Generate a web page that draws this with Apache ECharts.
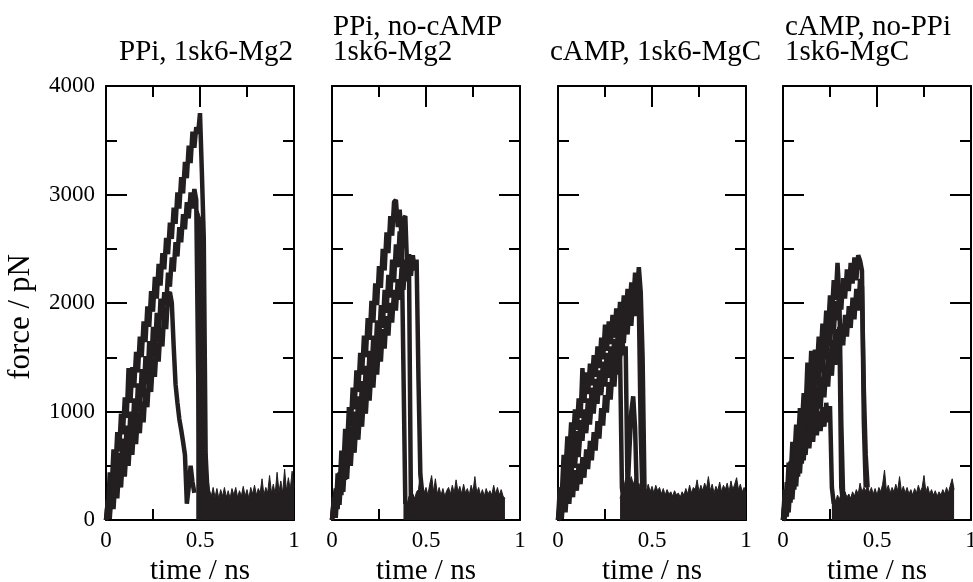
<!DOCTYPE html>
<html>
<head>
<meta charset="utf-8">
<script src="https://cdn.jsdelivr.net/npm/echarts@6/dist/echarts.min.js"></script>
<style>
html,body{margin:0;padding:0;background:#fff;}
#chart{width:973px;height:582px;}
</style>
</head>
<body>
<div id="chart"></div>
<script>
// ---------- data (force in pN, sampled every 0.01 ns) ----------
const SAMPLE_STEP = 0.01;
const TITLES = ["PPi, 1sk6-Mg2", "PPi, no-cAMP\n1sk6-Mg2", "cAMP, 1sk6-MgC", "cAMP, no-PPi\n1sk6-MgC"];
const X_NAME = "time / ns";
const Y_NAME = "force / pN";
const X_TICKS = [0, 0.5, 1];
const Y_TICKS = [0, 1000, 2000, 3000, 4000];

// panel 1 : PPi, 1sk6-Mg2  (traces start at t = 0)
const p1A = [0,60,440,290,650,470,810,630,980,790, 1130,940,1400,1080,1410,1220,1550,1360,1690,1500, 1830,1640,1970,1780,2110,1920,2240,2040,2360,2160, 2460,2310,2600,2450,2740,2590,2880,2730,3020,2870, 3160,3010,3300,3150,3450,3290,3580,3430,3620,3560, 3750,3200,2600,600,250];
const p1B = [0,180,60,360,170,500,280,620,400,750, 510,870,640,1000,760,1120,880,1260,1000,1390, 1130,1510,1250,1650,1380,1780,1510,1910,1640,2040, 1850,2100,1980,2280,2150,2420,2290,2560,2430,2700, 2560,2820,2680,2930,2780,3020,2870,3050,2950,1400, 200];
const p1C = [0,180,10,290,100,390,200,490,300,590, 400,690,500,790,600,890,700,990,800,1090, 900,1210,1040,1350,1180,1490,1320,1630,1460,1770, 1600,1920,1760,2080,2100,2000,1600,1250,1080,930, 830,720,600,150,300,500,350,250];
const p1TailStart = 0.48;
const p1Tail = [2750,2850,2800,2750,2600,800,420,280,220,300, 210,290,200,280,220,300,210,270,200,290, 230,300,210,270,220,310,220,280,200,300, 240,320,230,290,250,380,230,300,250,410, 250,330,240,440,260,360,250,470,270,390, 280,450,300];

// panel 2 : PPi, no-cAMP 1sk6-Mg2
const p2A = [0,210,80,430,270,640,460,840,660,1040, 860,1220,1020,1380,1180,1540,1340,1700,1500,1860, 1660,2020,1820,2180,1980,2340,2140,2500,2300,2650, 2460,2800,2620,2930,2950,2700,2860,2600,1400,150];
const p2B = [0,10,290,100,440,230,580,370,720,510, 860,650,1000,790,1140,930,1280,1070,1420,1210, 1560,1350,1700,1490,1840,1630,1980,1770,2120,1910, 2260,2050,2400,2190,2540,2330,2660,2450,2780,2800, 2300,2250,100];
const p2C = [0,190,20,320,140,440,260,560,380,680, 500,800,620,920,740,1040,860,1160,980,1280, 1100,1400,1220,1520,1340,1640,1460,1760,1580,1880, 1700,2000,1820,2120,1930,2220,2030,2320,2120,2400, 2200,2450,2250,2440,2300,2400,1300,420,250];
const p2TailStart = 0.38;
const p2Tail = [150,200,150,220,180,240,200,260,280,430, 300,250,300,230,330,410,260,380,240,300, 230,290,220,270,300,240,320,250,370,260, 310,240,330,250,290,230,320,260,400,250, 300,230,280,220,290,240,270,230,320,240, 300,230,280,220,200];

// panel 3 : cAMP, 1sk6-MgC
const p3A = [0,300,230,600,460,770,600,900,720,1020, 830,1120,940,1400,1080,1360,1160,1440,1240,1520, 1320,1600,1400,1680,1480,1800,1560,1830,1620,1890, 1680,1950,1740,2010,1800,2070,1860,2130,1920,2190, 1990,2280,2080,2330,2100,1500,300];
const p3B = [0,10,260,90,400,230,540,360,660,480, 770,580,870,760,970,800,1070,880,1170,980, 1270,1070,1350,1150,1430,1230,1510,1310,1590,1390, 1670,1470,1750,1550,1830,1630,1910,1710,1990,1790, 2070,1880,2170,2000,800,200];
const p3C = [0,160,10,250,70,330,150,400,210,460, 270,520,330,580,390,650,470,730,550,810, 640,910,750,1030,870,1150,990,1270,1110,1390, 1230,1510,1340,1540,300,150];
const p3D = [0,20,300,140,460,290,600,420,720,530, 820,630,920,730,1020,830,1120,930,1220,1020, 1300,1100,1380,1180,1460,1260,1540,1330,1600,1390, 1660,1450,1720,1500,1700,1520,1600,250,650,1000, 1140,850,200];
const p3TailStart = 0.33;
const p3Tail = [200,260,300,380,420,350,400,330,380,300, 340,280,320,400,270,330,260,310,250,320, 270,300,240,290,230,280,240,260,220,270, 230,250,210,260,230,290,240,320,250,300, 280,370,260,320,270,340,290,400,270,330, 250,310,270,350,260,320,280,340,260,360, 280,330,390,280,330,260,300,240];

// panel 4 : cAMP, no-PPi 1sk6-MgC
const p4A = [0,280,170,530,380,720,550,880,710,1030, 850,1170,990,1450,1130,1560,1260,1570,1380,1690, 1500,1810,1620,1930,1750,2070,1890,2210,2030,2370, 2050,900,200];
const p4B = [0,180,30,330,160,460,280,580,400,700, 520,820,640,940,750,1040,850,1140,950,1230, 1030,1320,1130,1420,1230,1520,1330,1620,1430,1720, 1530,1810,1610,1890,1690,1970,1770,2050,1850,2130, 1930,2220,2150,1200,600,300];
const p4C = [0,10,230,70,350,190,470,310,590,430, 710,550,830,670,950,790,1070,910,1190,1030, 1310,1150,1430,1270,1550,1390,1660,1490,1760,1590, 1780,300,150];
const p4D = [0,200,90,370,240,500,360,610,460,700, 540,770,600,830,660,890,720,950,780,1000, 820,1040,860,1080,900,1050,300,150];
const p4E = [0,20,350,210,540,380,690,520,820,640, 940,760,1060,880,1180,1000,1300,1120,1420,1240, 1540,1360,1660,1480,1780,1600,1900,1720,2020,1840, 2130,1940,2230,2040,2310,2110,2370,2180,2420,2210, 2440,2390,2300,900,300];
const p4TailStart = 0.26;
const p4Tail = [180,220,170,230,190,250,200,260,210,240, 200,260,220,280,240,340,260,300,270,320, 250,300,240,290,230,300,260,330,460,270, 320,250,300,260,330,270,400,260,310,250, 300,240,280,230,290,250,320,260,300,410, 260,310,240,280,230,270,220,260,230,280, 240,300,250,320,380,280];

// ---------- assembly ----------
const panels = [
  {traces: [p1A, p1B, p1C], tail: p1Tail, tailStart: p1TailStart},
  {traces: [p2A, p2B, p2C], tail: p2Tail, tailStart: p2TailStart},
  {traces: [p3A, p3B, p3C, p3D], tail: p3Tail, tailStart: p3TailStart},
  {traces: [p4A, p4B, p4C, p4D, p4E], tail: p4Tail, tailStart: p4TailStart}
];

function toPairs(vals, start) {
  return vals.map((v, i) => [Math.round((start + i * SAMPLE_STEP) * 1000) / 1000, v]);
}

const FONT = '"Liberation Serif", "Times New Roman", serif';
const INK = '#231f20';
const GRID_LEFT = [106, 332, 558, 783];
const TITLE_LEFT = [119, 333, 550, 785];
const GRID_TOP = 86, GRID_W = 188, GRID_H = 434;

const grid = [], xAxis = [], yAxis = [], series = [], title = [];

function tickCfg() {
  return {
    axisLine: {show: true, onZero: false, lineStyle: {color: '#000', width: 2}},
    axisTick: {show: true, inside: true, length: 21, lineStyle: {color: '#000', width: 2}},
    minorTick: {show: true, splitNumber: 2, length: 11, lineStyle: {color: '#000', width: 2}},
    splitLine: {show: false},
    minorSplitLine: {show: false}
  };
}
const plain = v => String(v);

panels.forEach((p, i) => {
  grid.push({left: GRID_LEFT[i], top: GRID_TOP, width: GRID_W, height: GRID_H,
             containLabel: false, outerBoundsMode: 'none'});
  const twoLine = TITLES[i].indexOf('\n') >= 0;
  title.push({
    text: TITLES[i], left: TITLE_LEFT[i], top: twoLine ? 15 : 40, padding: 0,
    textStyle: {fontFamily: FONT, fontSize: 29, fontWeight: 'normal', color: '#000', lineHeight: 25}
  });
  xAxis.push(Object.assign({
    type: 'value', gridIndex: i, min: X_TICKS[0], max: X_TICKS[X_TICKS.length - 1], interval: X_TICKS[1] - X_TICKS[0],
    position: 'bottom',
    axisLabel: {show: true, margin: 9, color: '#000', fontFamily: FONT, fontSize: 23, formatter: plain},
    name: X_NAME, nameLocation: 'middle', nameGap: 35,
    nameTextStyle: {fontFamily: FONT, fontSize: 29, color: '#000', lineHeight: 29}
  }, tickCfg()));
  xAxis.push(Object.assign({
    type: 'value', gridIndex: i, min: X_TICKS[0], max: X_TICKS[X_TICKS.length - 1], interval: X_TICKS[1] - X_TICKS[0],
    position: 'top', axisLabel: {show: false}
  }, tickCfg()));
  yAxis.push(Object.assign({
    type: 'value', gridIndex: i, min: Y_TICKS[0], max: Y_TICKS[Y_TICKS.length - 1], interval: Y_TICKS[1] - Y_TICKS[0],
    position: 'left',
    axisLabel: {show: i === 0, margin: 11, color: '#000', fontFamily: FONT, fontSize: 23, formatter: plain}
  }, tickCfg()));
  yAxis.push(Object.assign({
    type: 'value', gridIndex: i, min: Y_TICKS[0], max: Y_TICKS[Y_TICKS.length - 1], interval: Y_TICKS[1] - Y_TICKS[0],
    position: 'right', axisLabel: {show: false}
  }, tickCfg()));

  series.push({
    type: 'line', xAxisIndex: 2 * i, yAxisIndex: 2 * i,
    data: toPairs(p.tail, p.tailStart), symbol: 'none', silent: true,
    lineStyle: {color: INK, width: 1}, areaStyle: {color: INK, opacity: 1}, z: 2
  });
  p.traces.forEach(tr => {
    series.push({
      type: 'line', xAxisIndex: 2 * i, yAxisIndex: 2 * i,
      data: toPairs(tr, 0), symbol: 'none', silent: true,
      lineStyle: {color: INK, width: 4.5, join: 'bevel'}, z: 3
    });
  });
});

const chart = echarts.init(document.getElementById('chart'), null, {renderer: 'canvas'});
chart.setOption({
  animation: false,
  backgroundColor: '#fff',
  title: title,
  grid: grid,
  xAxis: xAxis,
  yAxis: yAxis,
  series: series,
  graphic: [{
    type: 'text', x: 21, y: 317, rotation: Math.PI / 2,
    style: {text: Y_NAME, font: '31px ' + FONT, fill: '#000', textAlign: 'center', textVerticalAlign: 'middle'}
  }]
});
</script>
</body>
</html>
